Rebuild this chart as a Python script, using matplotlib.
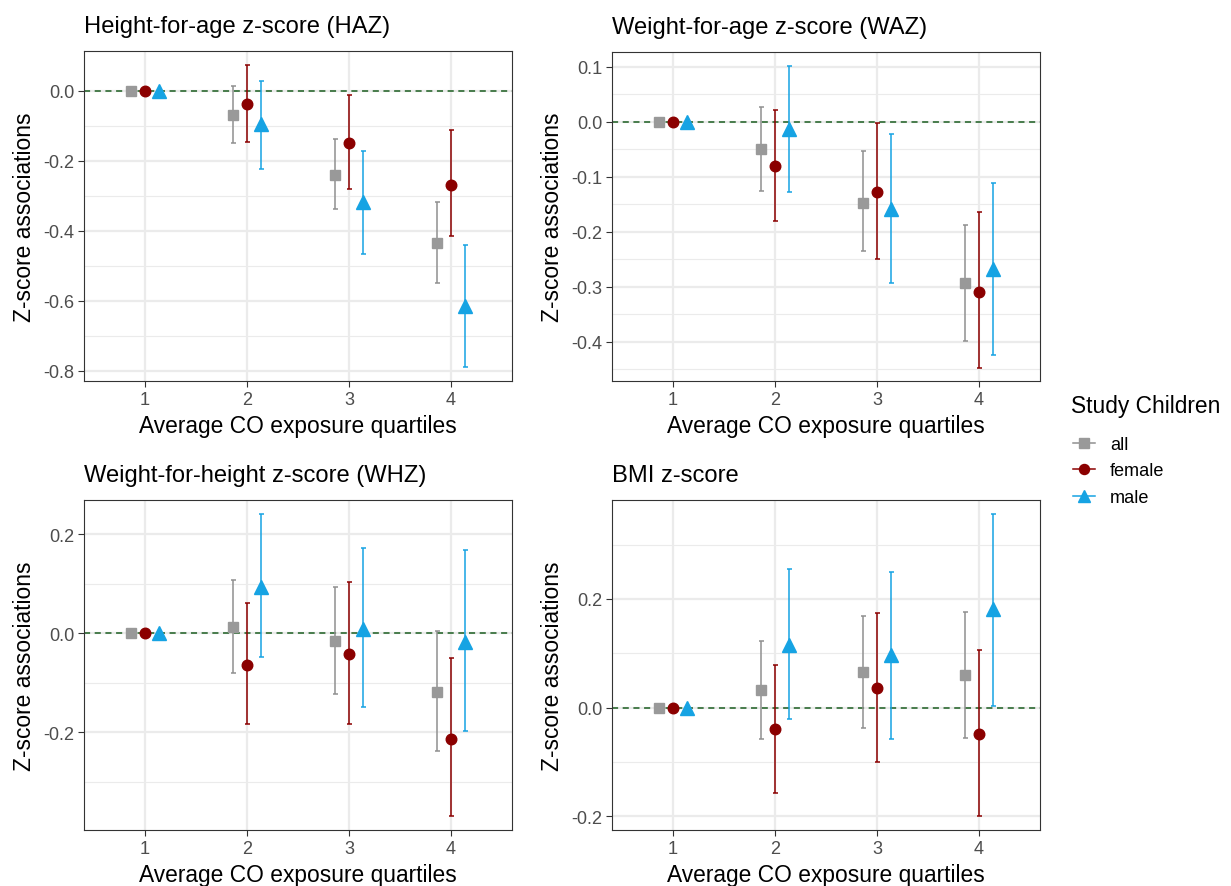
import matplotlib
matplotlib.use("Agg")
import matplotlib.pyplot as plt
from matplotlib.lines import Line2D
import numpy as np

plt.rcParams['font.family'] = ['Liberation Sans', 'DejaVu Sans']

quartiles = [1, 2, 3, 4]
groups = ["all", "female", "male"]

titles = ["Height-for-age z-score (HAZ)", "Weight-for-age z-score (WAZ)",
          "Weight-for-height z-score (WHZ)", "BMI z-score"]

# HAZ
haz_est = {"all":    [0, -0.070, -0.240, -0.434],
           "female": [0, -0.038, -0.150, -0.269],
           "male":   [0, -0.095, -0.319, -0.616]}
haz_lo = {"all":    [0, -0.151, -0.338, -0.548],
          "female": [0, -0.146, -0.282, -0.416],
          "male":   [0, -0.223, -0.467, -0.790]}
haz_hi = {"all":    [0, 0.013, -0.138, -0.319],
          "female": [0, 0.073, -0.014, -0.112],
          "male":   [0, 0.026, -0.173, -0.442]}
# WAZ
waz_est = {"all":    [0, -0.050, -0.147, -0.294],
           "female": [0, -0.081, -0.128, -0.309],
           "male":   [0, -0.013, -0.158, -0.268]}
waz_lo = {"all":    [0, -0.126, -0.236, -0.398],
          "female": [0, -0.181, -0.250, -0.447],
          "male":   [0, -0.128, -0.294, -0.424]}
waz_hi = {"all":    [0, 0.027, -0.053, -0.187],
          "female": [0, 0.021, -0.003, -0.165],
          "male":   [0, 0.102, -0.023, -0.111]}
# WHZ
whz_est = {"all":    [0, 0.012, -0.016, -0.118],
           "female": [0, -0.063, -0.042, -0.214],
           "male":   [0, 0.094, 0.009, -0.018]}
whz_lo = {"all":    [0, -0.081, -0.122, -0.237],
          "female": [0, -0.184, -0.183, -0.368],
          "male":   [0, -0.047, -0.149, -0.197]}
whz_hi = {"all":    [0, 0.107, 0.093, 0.005],
          "female": [0, 0.062, 0.104, -0.049],
          "male":   [0, 0.240, 0.172, 0.168]}
# BMI
bmi_est = {"all":    [0, 0.032, 0.065, 0.060],
           "female": [0, -0.039, 0.037, -0.048],
           "male":   [0, 0.115, 0.096, 0.181]}
bmi_lo = {"all":    [0, -0.057, -0.038, -0.055],
          "female": [0, -0.157, -0.100, -0.199],
          "male":   [0, -0.020, -0.058, 0.004]}
bmi_hi = {"all":    [0, 0.123, 0.169, 0.176],
          "female": [0, 0.079, 0.175, 0.106],
          "male":   [0, 0.256, 0.250, 0.356]}

panels = [(haz_est, haz_lo, haz_hi), (waz_est, waz_lo, waz_hi),
          (whz_est, whz_lo, whz_hi), (bmi_est, bmi_lo, bmi_hi)]

major_ticks = [[0.0, -0.2, -0.4, -0.6, -0.8],
               [0.1, 0.0, -0.1, -0.2, -0.3, -0.4],
               [0.2, 0.0, -0.2],
               [0.2, 0.0, -0.2]]
minor_ticks = [[-0.1, -0.3, -0.5, -0.7],
               [0.05, -0.05, -0.15, -0.25, -0.35, -0.45],
               [0.1, -0.1, -0.3],
               [0.3, 0.1, -0.1]]
ylims = [(-0.829, 0.113), (-0.4715, 0.1267), (-0.397, 0.269), (-0.225, 0.382)]

colors = {"all": "#999999", "female": "#8B0000", "male": "#16A3E3"}
ecolors = {"all": "#909090", "female": "#8B0000", "male": "#16A3E3"}
markers = {"all": "s", "female": "o", "male": "^"}
msizes = {"all": 7.8, "female": 7.6, "male": 9.6}
offsets = {"all": -0.135, "female": 0.0, "male": 0.135}

W, H = 1231, 887
fig = plt.figure(figsize=(W / 100, H / 100), dpi=100)

boxes = [(84, 512, 52, 382), (612, 1040, 53, 382),
         (84, 512, 501, 831), (612, 1040, 501, 831)]

tick_col = "#4D4D4D"
for i, (l, r, t, b) in enumerate(boxes):
    ax = fig.add_axes([l / W, 1 - b / H, (r - l) / W, (b - t) / H])
    est, lo, hi = panels[i]
    ax.set_xlim(0.4, 4.6)
    ax.set_ylim(*ylims[i])
    ax.set_xticks(quartiles)
    ax.set_xticklabels([str(q) for q in quartiles])
    ax.set_yticks(major_ticks[i])
    ax.set_yticklabels([f"{v:.1f}" if abs(v) > 1e-9 else "0.0" for v in major_ticks[i]])
    ax.set_yticks(minor_ticks[i], minor=True)
    ax.grid(True, which='major', color='#EBEBEB', lw=1.6, zorder=0)
    ax.grid(True, which='minor', axis='y', color='#EBEBEB', lw=0.8, zorder=0)
    ax.set_axisbelow(True)
    ax.tick_params(axis='both', which='major', length=4, width=0.8, color='#333333',
                   labelsize=13.1, labelcolor=tick_col, pad=3.2)
    ax.tick_params(axis='y', which='minor', length=0)
    for s in ax.spines.values():
        s.set_color('#333333')
        s.set_linewidth(0.8)
    ax.axhline(0, color='#1B5E20', lw=1.1, ls=(0, (4, 3)), zorder=2)
    for g in groups:
        x = np.array(quartiles) + offsets[g]
        y = np.array(est[g])
        yerr = np.vstack([y - np.array(lo[g]), np.array(hi[g]) - y])
        ax.errorbar(x, y, yerr=yerr, fmt='none', ecolor=ecolors[g], elinewidth=1.1,
                    capsize=1.8, capthick=1.1, zorder=3)
        ax.plot(x, y, ls='none', marker=markers[g], ms=msizes[g], color=colors[g],
                mec=colors[g], zorder=4)
    ax.set_title(titles[i], loc='left', fontsize=17.1, pad=13.7, color='black')
    ax.set_xlabel("Average CO exposure quartiles", fontsize=16.4, labelpad=4)
    ax.set_ylabel("Z-score associations", fontsize=16.4, labelpad=5)

fig.text(1071 / W, 1 - 407 / H, "Study Children", fontsize=16.4, va='center', ha='left')
handles = [Line2D([0], [0], color=ecolors[g], lw=1.1, marker=markers[g],
                  ms=msizes[g] * 0.95, mfc=colors[g], mec=colors[g]) for g in groups]
leg = fig.legend(handles, groups, loc='upper left', bbox_to_anchor=(1073 / W, 1 - 437 / H),
                 frameon=False, fontsize=13.1, handlelength=1.2, handletextpad=0.82,
                 labelspacing=0.52, borderaxespad=0, borderpad=0)

fig.savefig("out.png", dpi=100)
